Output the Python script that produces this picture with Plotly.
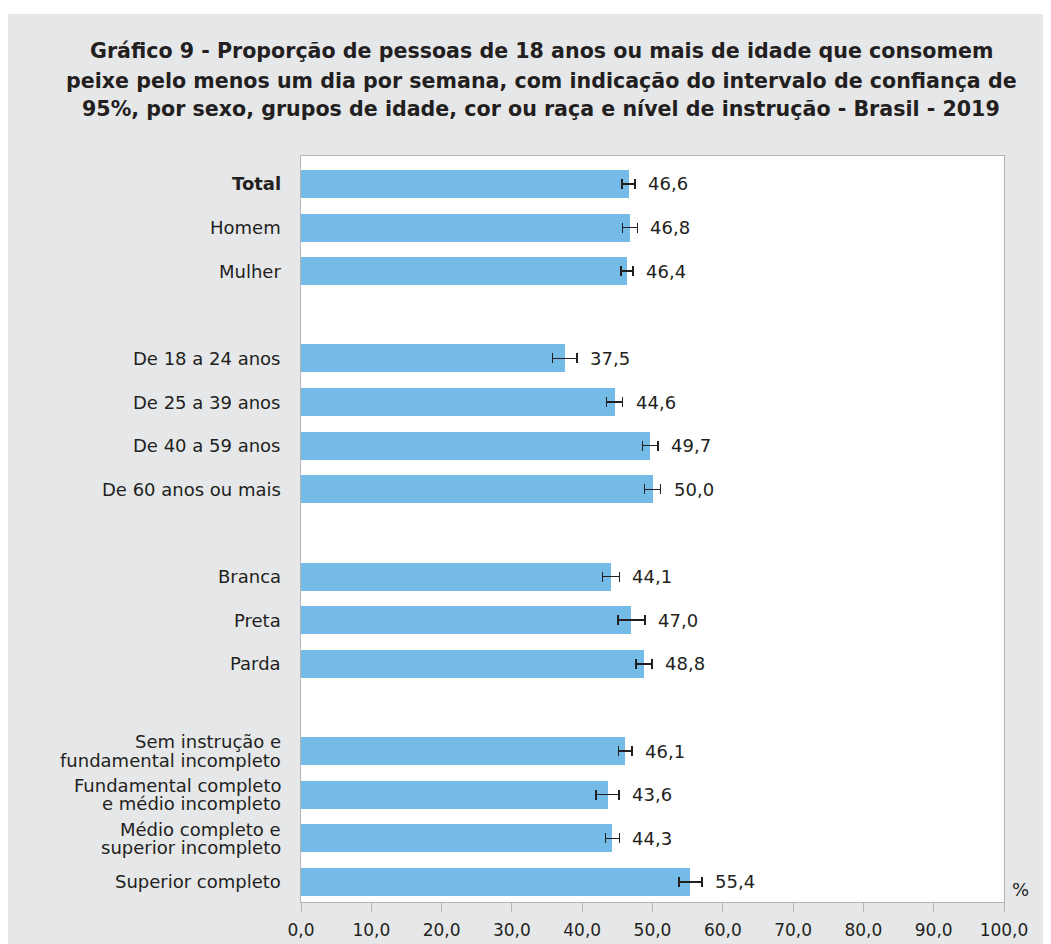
import plotly.graph_objects as go

groups = [
    ["<b>Total</b>", "Homem", "Mulher"],
    ["De 18 a 24 anos", "De 25 a 39 anos", "De 40 a 59 anos", "De 60 anos ou mais"],
    ["Branca", "Preta", "Parda"],
    ["Sem instrução e<br>fundamental incompleto", "Fundamental completo<br>e médio incompleto",
     "Médio completo e<br>superior incompleto", "Superior completo"],
]
values = [
    [46.6, 46.8, 46.4],
    [37.5, 44.6, 49.7, 50.0],
    [44.1, 47.0, 48.8],
    [46.1, 43.6, 44.3, 55.4],
]
ci_half = [
    [0.95, 1.05, 0.85],
    [1.75, 1.15, 1.1, 1.15],
    [1.2, 1.9, 1.15],
    [0.95, 1.6, 1.0, 1.65],
]
x_ticks = [0, 10, 20, 30, 40, 50, 60, 70, 80, 90, 100]
title_lines = [
    "Gráfico 9 - Proporção de pessoas de 18 anos ou mais de idade que consomem",
    "peixe pelo menos um dia por semana, com indicação do intervalo de confiança de",
    "95%, por sexo, grupos de idade, cor ou raça e nível de instrução - Brasil - 2019",
]

labels, vals, errs, pos = [], [], [], []
idx = 0
for g, (cats, vs, es) in enumerate(zip(groups, values, ci_half)):
    if g > 0:
        idx += 1
    for c, v, e in zip(cats, vs, es):
        labels.append(c); vals.append(v); errs.append(e); pos.append(idx)
        idx += 1
n_slots = idx

TXT = "#231f20"
FONT = "DejaVu Sans, Verdana, sans-serif"
W, H = 1060, 944
ML, MR, MT, MB = 293, 64, 148, 50
PW, PH = W - ML - MR, H - MT - MB

fig = go.Figure()
fig.add_trace(go.Bar(
    x=vals, y=pos, orientation="h", width=0.64,
    marker=dict(color="#74bbe7", line=dict(width=0)),
    error_x=dict(type="data", array=errs, symmetric=True, color=TXT, thickness=1.6, width=5),
    hoverinfo="skip",
))
for v, e, p in zip(vals, errs, pos):
    fig.add_annotation(x=v + e, y=p, text=f"{v:.1f}".replace(".", ","), showarrow=False,
                       xanchor="left", xshift=11, font=dict(size=18, color=TXT))

# category labels (one annotation per text line, tight line spacing)
LINE = 18.5
for lab, p in zip(labels, pos):
    parts = lab.split("<br>")
    n = len(parts)
    for k, part in enumerate(parts):
        fig.add_annotation(xref="paper", yref="y", x=0, y=p, xshift=-18,
                           yshift=((n - 1) / 2 - k) * LINE,
                           xanchor="right", yanchor="middle", showarrow=False,
                           text=part, font=dict(size=18, color=TXT))

fig.add_annotation(xref="paper", yref="paper", x=1.009, y=0.0, yanchor="bottom", xanchor="left",
                   text="%", showarrow=False, font=dict(size=18, color=TXT))

for line, shift in zip(title_lines, [105, 75, 47]):
    fig.add_annotation(xref="paper", yref="paper", x=(533 - 293) / PW, y=1, yshift=shift,
                       xanchor="center", yanchor="middle", showarrow=False,
                       text=f"<b>{line}</b>", font=dict(size=20.6, color=TXT))

# thin white strip above the grey panel
fig.add_shape(type="rect", xref="paper", yref="paper", layer="above",
              x0=-(ML + 20) / PW, x1=1 + (MR + 20) / PW,
              y0=1 + (MT - 6) / PH, y1=1 + (MT + 20) / PH,
              fillcolor="#ffffff", line=dict(width=0))

fig.update_layout(
    width=W, height=H,
    paper_bgcolor="#e6e7e9", plot_bgcolor="#ffffff",
    margin=dict(l=ML, r=MR, t=MT, b=MB),
    font=dict(family=FONT, color=TXT, size=18),
    showlegend=False,
    bargap=0,
)
fig.update_xaxes(
    range=[0, 100], tickvals=x_ticks,
    ticktext=[f"{t:.1f}".replace(".", ",") for t in x_ticks],
    showgrid=False, zeroline=False,
    showline=True, linecolor="#b5b5b5", linewidth=1, mirror=True,
    ticks="outside", ticklen=9, tickcolor="#b5b5b5", tickwidth=1,
    ticklabelstandoff=4,
    tickfont=dict(size=17, color=TXT),
)
fig.update_yaxes(
    range=[n_slots - 1 + 0.46, -0.64], tickvals=pos, showticklabels=False,
    showgrid=False, zeroline=False,
    showline=True, linecolor="#b5b5b5", linewidth=1, mirror=True,
    ticks="",
)
fig.write_html("out.html")
